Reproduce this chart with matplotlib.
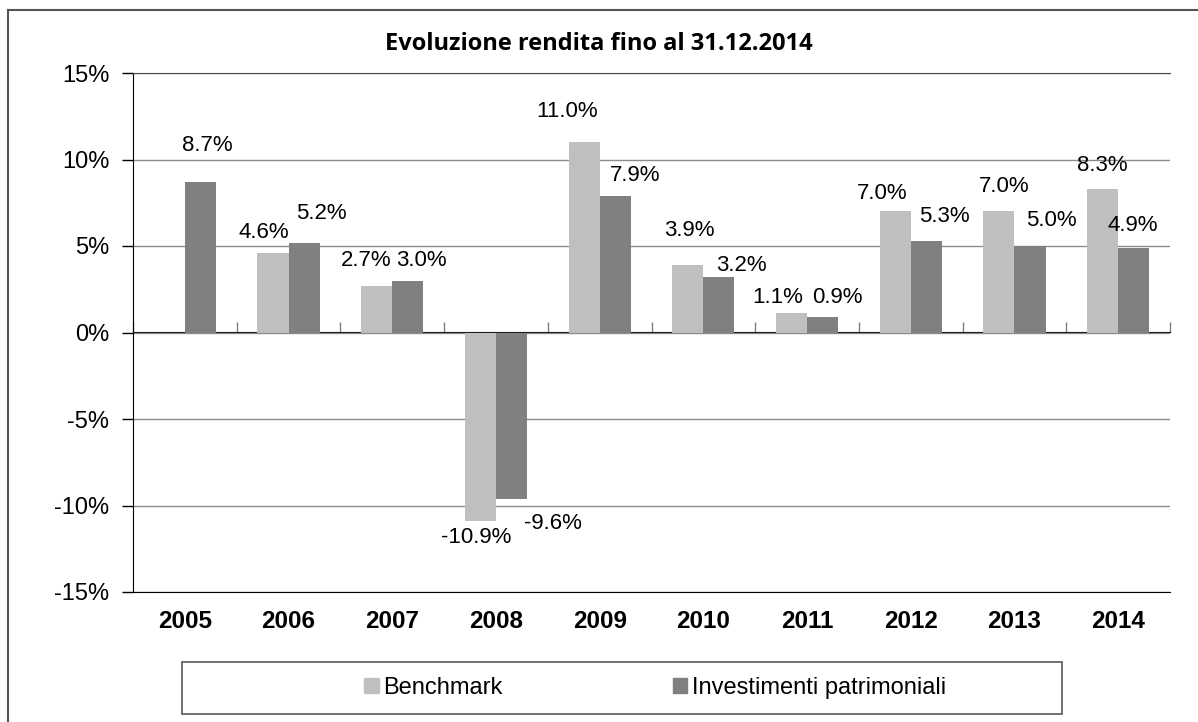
import numpy as np
import matplotlib
matplotlib.use('Agg')
import matplotlib.pyplot as plt
from matplotlib.patches import Patch, Rectangle
from matplotlib.lines import Line2D

# data (percent)
years = ['2005', '2006', '2007', '2008', '2009', '2010', '2011', '2012', '2013', '2014']
benchmark = [np.nan, 4.6, 2.7, -10.9, 11.0, 3.9, 1.1, 7.0, 7.0, 8.3]
investimenti = [8.7, 5.2, 3.0, -9.6, 7.9, 3.2, 0.9, 5.3, 5.0, 4.9]
yticks = [-15, -10, -5, 0, 5, 10, 15]

# label nudges in pixels (dx, dy) relative to the bar end, as placed in the original
bench_offsets = [None, (-9, 20), (-11, 25), (-4, -16), (-17, 31), (2, 35),
                 (-14, 16), (-13, 18), (5, 25), (0, 23)]
inv_offsets = [(7, 36), (17, 29), (14, 20), (41, -25), (20, 20), (23, 12),
               (15, 19), (18, 24), (21, 25), (-1, 22)]

plt.rcParams['font.family'] = ['Liberation Sans', 'DejaVu Sans']

W, H = 1198, 722
fig = plt.figure(figsize=(W / 100, H / 100), dpi=100)
ax = fig.add_axes([133 / W, 130 / H, 1037 / W, 519 / H])

x = np.arange(len(years))
w = 0.3
ax.bar(x - w / 2, benchmark, w, color='#bfbfbf', zorder=3)
ax.bar(x + w / 2, investimenti, w, color='#808080', zorder=3)

# data labels
for i, v in enumerate(benchmark):
    if np.isnan(v):
        continue
    dx, dy = bench_offsets[i]
    ax.annotate(f'{v:.1f}%', xy=(x[i] - w / 2, v), xytext=(dx, dy),
                textcoords='offset pixels', ha='center', va='center', fontsize=16)
for i, v in enumerate(investimenti):
    dx, dy = inv_offsets[i]
    ax.annotate(f'{v:.1f}%', xy=(x[i] + w / 2, v), xytext=(dx, dy),
                textcoords='offset pixels', ha='center', va='center', fontsize=16)

ax.set_xlim(-0.5, len(years) - 0.5)
ax.set_ylim(-15, 15)
ax.set_yticks(yticks)
ax.set_yticklabels([f'{t}%' for t in yticks])
ax.yaxis.grid(True, color='#8c8c8c', lw=1)
ax.set_axisbelow(True)
ax.tick_params(axis='y', length=8, width=1, color='black', pad=9, labelsize=17)

ax.set_xticks(x)
ax.set_xticklabels(years, fontweight='bold', fontsize=17.5)
ax.tick_params(axis='x', length=0, pad=13)

ax.spines['right'].set_visible(False)
ax.spines['top'].set_color('#4d4d4d')
ax.spines['left'].set_color('black')
ax.spines['bottom'].set_color('black')

# category axis drawn at zero with boundary ticks
zero_axis = ax.secondary_xaxis(0.5)
zero_axis.set_xticks(np.arange(-0.5, len(years), 1.0))
zero_axis.set_xticklabels([])
zero_axis.tick_params(length=7, width=1, color='#808080', direction='out')
zero_axis.spines['bottom'].set_color('black')

fig.text(599 / W, 1 - 44 / H, 'Evoluzione rendita fino al 31.12.2014',
         ha='center', va='center', fontsize=17, fontweight='bold',
         family=['Open Sans', 'DejaVu Sans'])

handles = [Patch(color='#bfbfbf', label='Benchmark'),
           Patch(color='#808080', label='Investimenti patrimoniali')]
fig.legend(handles=handles, loc='center', bbox_to_anchor=(655 / W, 1 - 688 / H),
           ncol=2, frameon=False, fontsize=17, handlelength=0.6, handleheight=0.6,
           handletextpad=0.2, columnspacing=7.2)
fig.add_artist(Rectangle((182 / W, 1 - 714 / H), 880 / W, 52 / H,
                         transform=fig.transFigure, fill=False, ec='#595959', lw=1.2))

# outer frame (only left and top edges are visible in the original)
fig.add_artist(Line2D([8 / W, 8 / W], [0, 1 - 10 / H], transform=fig.transFigure,
                      color='#555555', lw=1.5))
fig.add_artist(Line2D([8 / W, 1], [1 - 10 / H, 1 - 10 / H], transform=fig.transFigure,
                      color='#555555', lw=1.5))

fig.savefig('out.png', dpi=100)
